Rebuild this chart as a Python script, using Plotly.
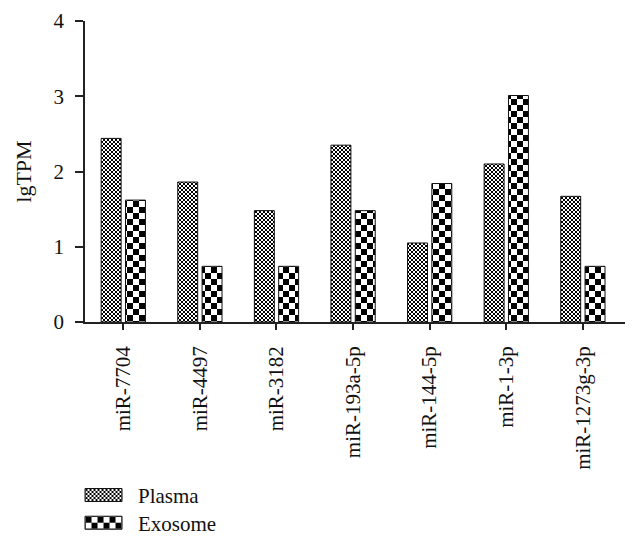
import plotly.graph_objects as go

categories = ["miR-7704", "miR-4497", "miR-3182", "miR-193a-5p", "miR-144-5p", "miR-1-3p", "miR-1273g-3p"]
plasma = [2.44, 1.86, 1.48, 2.35, 1.05, 2.10, 1.67]
exosome = [1.62, 0.74, 0.74, 1.48, 1.84, 3.01, 0.74]
y_ticks = [0, 1, 2, 3, 4]

FONT = "Liberation Serif, Times New Roman, serif"

fig = go.Figure()
fig.add_trace(go.Bar(
    name="Plasma", x=categories, y=plasma,
    marker=dict(color="white", line=dict(color="#111", width=1),
                pattern=dict(shape="x", size=4, fgcolor="black", bgcolor="white", solidity=0.5)),
))
fig.add_trace(go.Bar(
    name="Exosome", x=categories, y=exosome,
    marker=dict(color="white", line=dict(color="#111", width=1),
                pattern=dict(shape="+", size=12, fgcolor="black", bgcolor="white", solidity=0.5)),
))

fig.update_layout(
    width=640, height=544,
    margin=dict(l=85, r=15, t=21, b=222),
    paper_bgcolor="white", plot_bgcolor="white",
    barmode="group", bargap=0.365, bargroupgap=0.18,
    font=dict(family=FONT, size=21, color="#111"),
    showlegend=True,
    legend=dict(x=-0.0296, xanchor="left", y=-0.4637, yanchor="top",
                itemwidth=59, font=dict(family=FONT, size=21, color="#111"),
                bgcolor="rgba(0,0,0,0)", tracegroupgap=0),
)
fig.update_xaxes(
    range=[-0.5, 6.55], showline=True, linecolor="#222", linewidth=1.5,
    ticks="outside", ticklen=6, tickwidth=1.5, tickcolor="#222",
    tickangle=-90, showgrid=False, zeroline=False, ticklabelstandoff=8,
    automargin=False,
    tickfont=dict(family=FONT, size=21, color="#111"),
)
fig.update_yaxes(
    range=[0, 4], tickvals=y_ticks, showline=True, linecolor="#222", linewidth=1.5,
    ticks="outside", ticklen=8, tickwidth=1.5, tickcolor="#222",
    showgrid=False, zeroline=False, ticklabelstandoff=7,
    automargin=False,
    tickfont=dict(family=FONT, size=21, color="#111"),
    title=dict(text="lgTPM", font=dict(family=FONT, size=22, color="#111"), standoff=16),
)

post = """
document.documentElement.style.margin = '0';
document.documentElement.style.padding = '0';
document.body.style.margin = '0';
document.body.style.padding = '0';
document.body.style.overflow = 'hidden';
var gd = document.getElementById('{plot_id}');
var LEGEND_SHIFT = 13.3;
function fixChecks(){
  var ns = 'http://www.w3.org/2000/svg';
  gd.querySelectorAll('pattern').forEach(function(p){
    var w = parseFloat(p.getAttribute('width'));
    var s = (w < 8) ? 2 : 6;
    var W = 2*s;
    p.setAttribute('width', W); p.setAttribute('height', W);
    p.removeAttribute('patternTransform');
    while (p.firstChild) p.removeChild(p.firstChild);
    function r(x, y, sz, c){
      var e = document.createElementNS(ns, 'rect');
      e.setAttribute('x', x); e.setAttribute('y', y);
      e.setAttribute('width', sz); e.setAttribute('height', sz);
      e.setAttribute('fill', c); e.setAttribute('shape-rendering', 'crispEdges');
      p.appendChild(e);
    }
    r(0, 0, W, '#ffffff'); r(0, 0, s, '#000000'); r(s, s, s, '#000000');
  });
  gd.querySelectorAll('.legend .legendpoints path').forEach(function(el){
    el.setAttribute('d', 'M-18.5,-6.5H18.5V6.5H-18.5Z');
  });
  var re = /translate\\(([-\\d.e]+)[ ,]+([-\\d.e]+)\\)/;
  var tr = gd.querySelectorAll('.legend .traces');
  if (tr.length > 1) {
    var m0 = re.exec(tr[0].getAttribute('transform') || '');
    if (m0) {
      var x0 = parseFloat(m0[1]), y0 = parseFloat(m0[2]);
      for (var i = 1; i < tr.length; i++) {
        tr[i].setAttribute('transform', 'translate(' + x0 + ',' + (y0 + i * 27.7) + ')');
      }
    }
  }
  var lg = gd.querySelector('g.legend');
  if (lg && !lg.getAttribute('data-shifted')) {
    var m = re.exec(lg.getAttribute('transform') || '');
    if (m) {
      lg.setAttribute('transform', 'translate(' + parseFloat(m[1]) + ',' + (parseFloat(m[2]) + LEGEND_SHIFT) + ')');
      lg.setAttribute('data-shifted', '1');
    }
  }
  var clip = gd.querySelectorAll('clipPath[id*="legend"] rect');
  clip.forEach(function(c){ c.setAttribute('height', 200); });
}
fixChecks();
gd.on('plotly_afterplot', function(){
  var lg = gd.querySelector('g.legend');
  if (lg) lg.removeAttribute('data-shifted');
  fixChecks();
});
"""

fig.write_html("out.html", post_script=post, config={"displayModeBar": False})
